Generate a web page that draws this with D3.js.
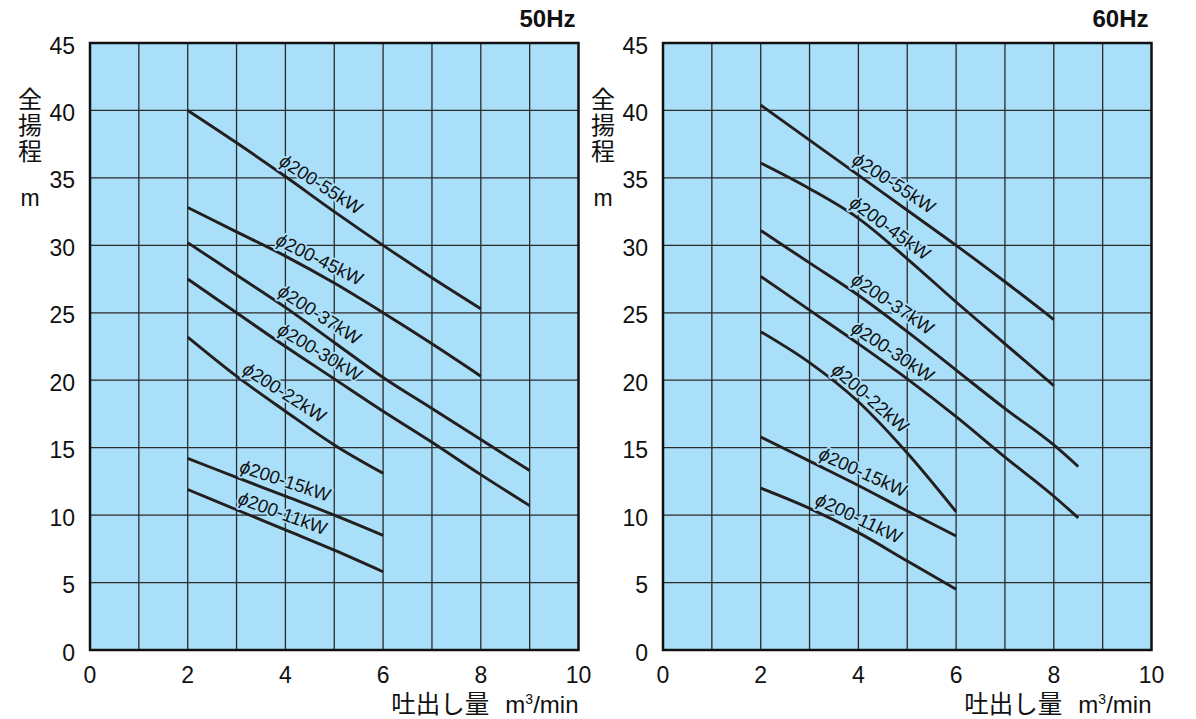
<!DOCTYPE html>
<html>
<head>
<meta charset="utf-8">
<script src="https://cdn.jsdelivr.net/npm/d3@7"></script>
<style>
  body { margin: 0; background: #fff; }
  svg { display: block; }
</style>
</head>
<body>
<svg id="chart" width="1196" height="719"></svg>
<script>
  // flow points, m3/min
  const flowPts = [2, 3, 4, 5, 6, 7, 8, 9];
  const models = ['200-55kW', '200-45kW', '200-37kW', '200-30kW', '200-22kW', '200-15kW', '200-11kW'];

  // 50Hz head, m (one value per flow point from 2)
  const h50_55 = [40.0, 37.6, 35.1, 32.5, 30.0, 27.6, 25.3];
  const h50_45 = [32.8, 31.0, 29.2, 27.2, 25.0, 22.7, 20.3];
  const h50_37 = [30.2, 27.8, 25.4, 22.8, 20.2, 17.9, 15.6, 13.3];
  const h50_30 = [27.5, 25.0, 22.5, 20.1, 17.7, 15.4, 13.0, 10.7];
  const h50_22 = [23.2, 20.3, 17.7, 15.2, 13.1];
  const h50_15 = [14.2, 12.8, 11.4, 10.0, 8.5];
  const h50_11 = [11.9, 10.4, 8.9, 7.4, 5.8];

  // 60Hz head, m (the last point of 37 / 30kW sits at 8.5)
  const h60_55 = [40.4, 37.8, 35.2, 32.6, 30.0, 27.3, 24.5];
  const h60_45 = [36.1, 34.2, 32.0, 29.0, 25.8, 22.7, 19.6];
  const h60_37 = [31.1, 28.7, 26.3, 23.6, 20.75, 17.9, 15.2, 13.6];
  const h60_30 = [27.7, 25.2, 22.7, 20.1, 17.3, 14.3, 11.4, 9.8];
  const h60_22 = [23.6, 21.3, 18.4, 14.6, 10.25];
  const h60_15 = [15.8, 14.0, 12.2, 10.3, 8.45];
  const h60_11 = [12.0, 10.5, 8.7, 6.6, 4.5];
  const flow60Long = [2, 3, 4, 5, 6, 7, 8, 8.5];

  // where each curve label begins (flow value)
  const labelAt50 = [3.78, 3.72, 3.75, 3.75, 3.03, 3.0, 2.96];
  const labelAt60 = [3.78, 3.72, 3.76, 3.76, 3.35, 3.11, 3.04];

  const xTicks = [0, 2, 4, 6, 8, 10];
  const yTicks = [0, 5, 10, 15, 20, 25, 30, 35, 40, 45];

  const panels = [
    {
      title: '50Hz', left: 90,
      series: [h50_55, h50_45, h50_37, h50_30, h50_22, h50_15, h50_11].map(h => h.map((v, i) => [flowPts[i], v])),
      labelAt: labelAt50
    },
    {
      title: '60Hz', left: 663,
      series: [h60_55, h60_45, h60_37, h60_30, h60_22, h60_15, h60_11].map(h => {
        const xs = h.length === 8 ? flow60Long : flowPts;
        return h.map((v, i) => [xs[i], v]);
      }),
      labelAt: labelAt60
    }
  ];

  const W = 488.5;
  const H = 607;
  const plotTop = 43;
  const bg = '#aadff9';
  const latin = '"Liberation Sans", Arial, Helvetica, sans-serif';
  const cjk = '"Noto Sans CJK JP", "Noto Sans CJK SC", sans-serif';

  const svg = d3.select('#chart');

  // linear lookup along a curve
  const headAt = (pts, q) => {
    for (let i = 0; i < pts.length - 1; i++) {
      if (q >= pts[i][0] && q <= pts[i + 1][0]) {
        const t = (q - pts[i][0]) / (pts[i + 1][0] - pts[i][0]);
        return pts[i][1] + t * (pts[i + 1][1] - pts[i][1]);
      }
    }
    return pts[pts.length - 1][1];
  };

  panels.forEach(p => {
    const g = svg.append('g').attr('transform', `translate(${p.left},${plotTop})`);
    const x = d3.scaleLinear().domain([0, 10]).range([0, W]);
    const y = d3.scaleLinear().domain([0, 45]).range([H, 0]);

    g.append('rect').attr('width', W).attr('height', H).attr('fill', bg);

    // grid
    g.append('g').selectAll('line').data(d3.range(1, 10)).join('line')
      .attr('x1', d => x(d)).attr('x2', d => x(d))
      .attr('y1', 0).attr('y2', H)
      .attr('stroke', '#2a2a2a').attr('stroke-width', 1.3);
    g.append('g').selectAll('line').data(d3.range(5, 45, 5)).join('line')
      .attr('x1', 0).attr('x2', W)
      .attr('y1', d => y(d)).attr('y2', d => y(d))
      .attr('stroke', '#2a2a2a').attr('stroke-width', 1.3);

    // curves
    const line = d3.line().x(d => x(d[0])).y(d => y(d[1])).curve(d3.curveMonotoneX);
    g.append('g').selectAll('path').data(p.series).join('path')
      .attr('d', line)
      .attr('fill', 'none')
      .attr('stroke', '#231f1f')
      .attr('stroke-width', 2.9);

    // curve labels, sitting just above their line
    p.series.forEach((pts, i) => {
      const q0 = p.labelAt[i];
      const q1 = q0 + 1.6;
      const x0 = x(q0), y0 = y(headAt(pts, q0));
      const x1 = x(q1), y1 = y(headAt(pts, q1));
      const ang = Math.atan2(y1 - y0, x1 - x0) * 180 / Math.PI - 2.5;
      const t = g.append('text')
        .attr('transform', `translate(${x0},${y0}) rotate(${ang}) translate(0,-6)`)
        .attr('font-family', latin)
        .attr('font-size', 18.5)
        .attr('fill', '#111')
        .attr('stroke', bg)
        .attr('stroke-width', 3.5)
        .attr('paint-order', 'stroke')
        .attr('stroke-linejoin', 'round');
      t.append('tspan').attr('font-style', 'italic').text('ϕ');
      t.append('tspan').text(models[i]);
    });

    // frame
    g.append('rect').attr('width', W).attr('height', H)
      .attr('fill', 'none').attr('stroke', '#111').attr('stroke-width', 2.5);

    // tick labels
    g.append('g').selectAll('text').data(yTicks).join('text')
      .attr('x', -15).attr('y', d => y(d) + 10.5)
      .attr('text-anchor', 'end')
      .attr('font-family', latin).attr('font-size', 23).attr('fill', '#111')
      .text(d => d);
    g.append('g').selectAll('text').data(xTicks).join('text')
      .attr('x', d => x(d)).attr('y', H + 33)
      .attr('text-anchor', 'middle')
      .attr('font-family', latin).attr('font-size', 23).attr('fill', '#111')
      .text(d => d);

    // title
    g.append('text')
      .attr('x', W - 3).attr('y', -16)
      .attr('text-anchor', 'end')
      .attr('font-family', latin).attr('font-size', 24).attr('font-weight', 'bold')
      .attr('fill', '#111')
      .text(p.title);

    // y axis title, written top to bottom
    g.append('text')
      .attr('x', -60).attr('y', 44)
      .attr('writing-mode', 'vertical-rl')
      .attr('letter-spacing', 2)
      .attr('font-family', cjk).attr('font-size', 24).attr('fill', '#111')
      .text('全揚程');
    g.append('text')
      .attr('x', -60).attr('y', 163)
      .attr('text-anchor', 'middle')
      .attr('font-family', latin).attr('font-size', 23).attr('fill', '#111')
      .text('m');

    // x axis title
    const xt = g.append('text')
      .attr('x', W).attr('y', H + 63)
      .attr('text-anchor', 'end')
      .attr('font-family', latin).attr('font-size', 24).attr('fill', '#111');
    xt.append('tspan').attr('font-family', cjk).attr('font-size', 24.5).text('吐出し量');
    xt.append('tspan').attr('dx', 16).text('m');
    xt.append('tspan').attr('font-size', 14).attr('dy', -9).text('3');
    xt.append('tspan').attr('dy', 9).text('/min');
  });
</script>
</body>
</html>
